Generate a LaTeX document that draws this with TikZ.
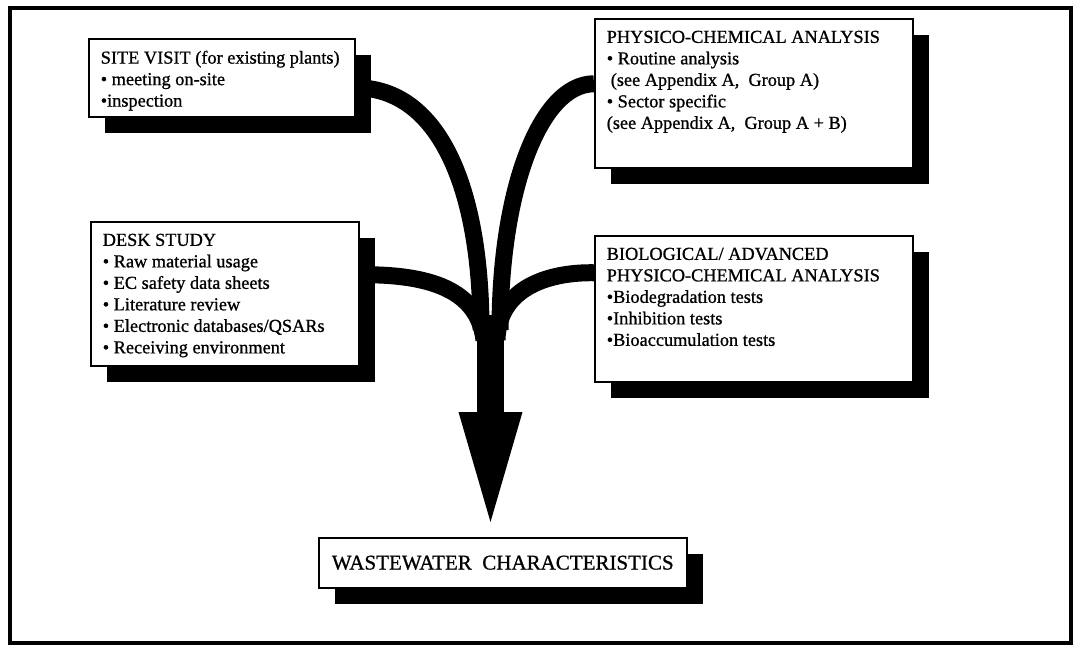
\documentclass[tikz,border=0pt]{standalone}
\usepackage{fontspec}
\setmainfont{Liberation Serif}
\newfontfamily\scanfont{Liberation Serif}[FakeBold=0.9]
\usetikzlibrary{arrows.meta, shadows}

\begin{document}
\begin{tikzpicture}[x=1pt, y=-1pt,
        box/.style={draw, line width=1.5pt, fill=white, anchor=north west, inner sep=12pt,
            font=\scanfont\fontsize{18.3}{21.5}\selectfont,
            drop shadow={shadow xshift=16pt, shadow yshift=-16pt, fill=black, opacity=1}},
        pipe/.style={line width=17pt}]
        \useasboundingbox (0,0) rectangle (1078,645);
        \draw[line width=3.5pt] (10,8) rectangle (1071,643);

        \node (site) at (88,38) [box] {\parbox[t][54pt][t]{242pt}{SITE VISIT (for existing plants)\\
            \textbullet\ meeting on-site\\
            \textbullet inspection}};
        \node (desk) at (90,221) [box] {\parbox[t][120pt][t]{244pt}{DESK STUDY\\
            \textbullet\ Raw material usage\\
            \textbullet\ EC safety data sheets\\
            \textbullet\ Literature review\\
            \textbullet\ Electronic databases/QSARs\\
            \textbullet\ Receiving environment}};
        \node (phys) at (594,18) [box] {\parbox[t][125pt][t]{294pt}{PHYSICO-CHEMICAL ANALYSIS\\
            \textbullet\ Routine analysis\\
            \hspace*{4pt}(see Appendix A,\ \ Group A)\\
            \textbullet\ Sector specific\\
            (see Appendix A,\ \ Group A + B)}};
        \node (bio) at (594,235) [box] {\parbox[t][122pt][t]{294pt}{BIOLOGICAL/ ADVANCED\\
            PHYSICO-CHEMICAL ANALYSIS\\
            \textbullet Biodegradation tests\\
            \textbullet Inhibition tests\\
            \textbullet Bioaccumulation tests}};
        \node (waste) at (318,537) [box, inner sep=0pt, minimum width=368pt, minimum height=50pt,
            font=\scanfont\fontsize{21}{24}\selectfont] {WASTEWATER\ \ CHARACTERISTICS};

        \coordinate (merge) at (490.5,315);
        \coordinate (tip) at (490.5,522);

        \draw[pipe] ([yshift=-10pt]site.east) .. controls (440,88) and (481,190) .. (481,330);
        \draw[pipe] ([yshift=9.5pt]phys.west) .. controls (540,84) and (500,190) .. (500,330);
        \draw[pipe] ([yshift=19pt]desk.east) .. controls (430,274) and (478,290) .. (484,340);
        \draw[pipe] ([yshift=36pt]bio.west) .. controls (545,272) and (498,290) .. (497,340);
        \draw[line width=27pt, -{Triangle[width=64pt, length=110pt, line width=0pt]}] (merge) -- (tip);
    \end{tikzpicture}
\end{document}
